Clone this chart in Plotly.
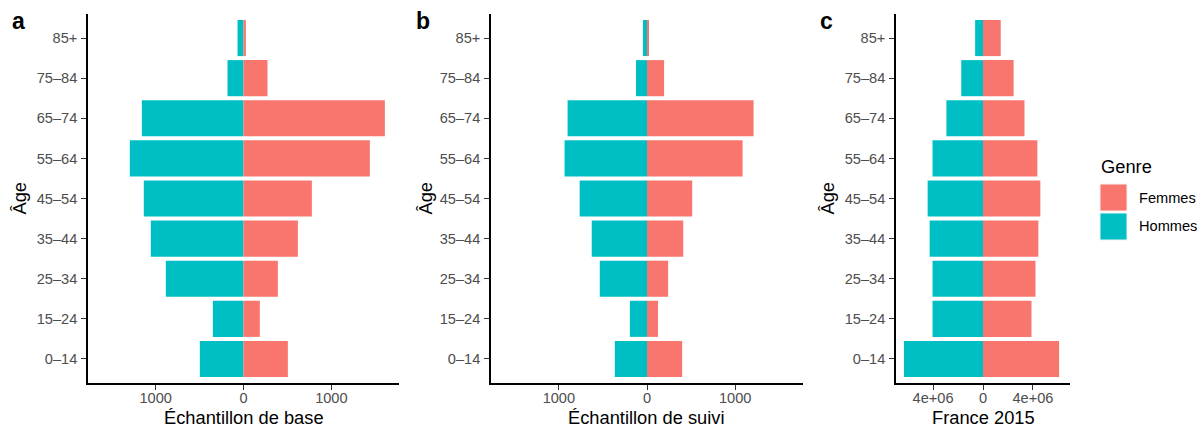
import plotly.graph_objects as go

# ---------------- data ----------------
ages = ["0–14", "15–24", "25–34", "35–44", "45–54", "55–64", "65–74", "75–84", "85+"]

base_femmes = [505, 186, 391, 619, 778, 1438, 1609, 273, 27]
base_hommes = [497, 349, 884, 1055, 1135, 1294, 1157, 182, 68]

suivi_femmes = [399, 125, 240, 411, 513, 1084, 1209, 194, 23]
suivi_hommes = [365, 194, 536, 627, 764, 935, 901, 125, 46]

france_femmes = [6.09e6, 3.88e6, 4.20e6, 4.43e6, 4.59e6, 4.35e6, 3.32e6, 2.45e6, 1.42e6]
france_hommes = [6.33e6, 4.04e6, 4.04e6, 4.27e6, 4.43e6, 4.04e6, 2.93e6, 1.74e6, 0.63e6]

ticks_ab = [-1000, 0, 1000]
ticks_ab_text = ["1000", "0", "1000"]
ticks_c = [-4e6, 0, 4e6]
ticks_c_text = ["4e+06", "0", "4e+06"]

panel_titles = ["Échantillon de base", "Échantillon de suivi", "France 2015"]
panel_letters = ["a", "b", "c"]
legend_title = "Genre"
legend_labels = ["Femmes", "Hommes"]
y_title = "Âge"

# ---------------- style ----------------
W, H = 1198, 428
COL_F = "#F8766D"
COL_H = "#00BFC4"
FONT = "Liberation Sans, Arial, Helvetica, sans-serif"
TICK_SIZE = 14.6
TITLE_SIZE = 18.3


def px(x):
    return x / W


def py(y):
    return 1 - y / H


panels = [(88, 399), (491, 803), (896, 1070)]
ytop, ybot = 14, 383

fig = go.Figure()

datasets = [
    (base_femmes, base_hommes),
    (suivi_femmes, suivi_hommes),
    (france_femmes, france_hommes),
]

lim_ab = 1.1 * max(max(base_femmes), max(base_hommes), max(suivi_femmes), max(suivi_hommes))
lim_c = 1.1 * max(max(france_femmes), max(france_hommes))

for i, (fem, hom) in enumerate(datasets):
    xa = "x" if i == 0 else f"x{i+1}"
    ya = "y" if i == 0 else f"y{i+1}"
    fig.add_trace(go.Bar(
        y=ages, x=[-v for v in hom], orientation="h", width=0.9,
        marker=dict(color=COL_H, line=dict(width=0)), name=legend_labels[1],
        xaxis=xa, yaxis=ya, showlegend=False,
    ))
    fig.add_trace(go.Bar(
        y=ages, x=fem, orientation="h", width=0.9,
        marker=dict(color=COL_F, line=dict(width=0)), name=legend_labels[0],
        xaxis=xa, yaxis=ya, showlegend=False,
    ))

layout = dict(
    width=W, height=H,
    margin=dict(l=0, r=0, t=0, b=0),
    paper_bgcolor="white", plot_bgcolor="white",
    barmode="relative",
    bargap=0.1,
    font=dict(family=FONT, color="black"),
    showlegend=False,
)

for i, (x0, x1) in enumerate(panels):
    sfx = "" if i == 0 else str(i + 1)
    lim = lim_ab if i < 2 else lim_c
    tv = ticks_ab if i < 2 else ticks_c
    tt = ticks_ab_text if i < 2 else ticks_c_text
    layout["xaxis" + sfx] = dict(
        domain=[px(x0), px(x1)], anchor="y" + sfx, range=[-lim, lim],
        tickvals=tv, ticktext=tt, showgrid=False, zeroline=False,
        showline=True, linecolor="black", linewidth=1.5,
        ticks="outside", ticklen=5, tickwidth=1.1, tickcolor="#333333",
        tickfont=dict(size=TICK_SIZE, color="#4D4D4D", family=FONT),
        ticklabelstandoff=-4, fixedrange=True,
    )
    layout["yaxis" + sfx] = dict(
        domain=[py(ybot), py(ytop)], anchor="x" + sfx,
        type="category", categoryorder="array", categoryarray=ages,
        range=[-0.6, len(ages) - 0.4],
        showgrid=False, zeroline=False,
        showline=True, linecolor="black", linewidth=1.5,
        ticks="outside", ticklen=5, tickwidth=1.1, tickcolor="#333333",
        tickfont=dict(size=TICK_SIZE, color="#4D4D4D", family=FONT),
        ticklabelstandoff=1, fixedrange=True,
    )

fig.update_layout(**layout)

annotations = []
letter_x = [18, 423, 826]
ytitle_x = [19, 425, 827]
for i, (x0, x1) in enumerate(panels):
    annotations.append(dict(
        x=px((x0 + x1) / 2), y=py(417), xref="paper", yref="paper",
        text=panel_titles[i], showarrow=False, xanchor="center", yanchor="middle",
        font=dict(size=TITLE_SIZE, color="black", family=FONT),
    ))
    annotations.append(dict(
        x=px(ytitle_x[i]), y=py((ytop + ybot) / 2), xref="paper", yref="paper",
        text=y_title, showarrow=False, xanchor="center", yanchor="middle",
        textangle=-90, font=dict(size=TITLE_SIZE, color="black", family=FONT),
    ))
    annotations.append(dict(
        x=px(letter_x[i]), y=py(21), xref="paper", yref="paper",
        text="<b>" + panel_letters[i] + "</b>", showarrow=False,
        xanchor="center", yanchor="middle",
        font=dict(size=23, color="black", family=FONT),
    ))

# legend (drawn manually to match key size)
annotations.append(dict(
    x=px(1099), y=py(166), xref="paper", yref="paper", text=legend_title,
    showarrow=False, xanchor="left", yanchor="middle",
    font=dict(size=TITLE_SIZE, color="black", family=FONT),
))
shapes = []
key_rows = [(184, 211, COL_F, legend_labels[0]), (213, 240, COL_H, legend_labels[1])]
for (k0, k1, col, lab) in key_rows:
    shapes.append(dict(
        type="rect", xref="paper", yref="paper",
        x0=px(1100), x1=px(1127), y0=py(k1), y1=py(k0),
        fillcolor=col, line=dict(color="#F2F2F2", width=1),
    ))
    annotations.append(dict(
        x=px(1137), y=py((k0 + k1) / 2), xref="paper", yref="paper", text=lab,
        showarrow=False, xanchor="left", yanchor="middle",
        font=dict(size=TICK_SIZE, color="black", family=FONT),
    ))

fig.update_layout(annotations=annotations, shapes=shapes)

fig.write_html(
    "out.html",
    config={"displayModeBar": False},
    post_script="document.body.style.margin='0px';document.body.style.overflow='hidden';",
)
